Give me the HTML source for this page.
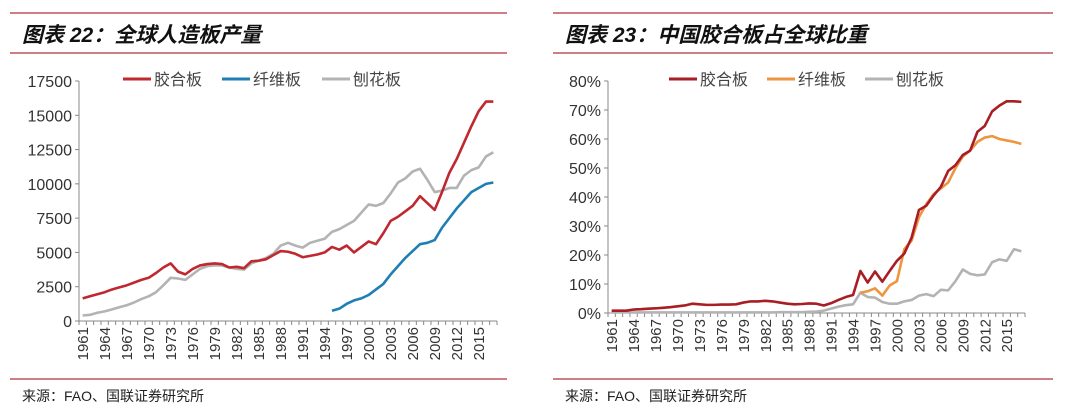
<!DOCTYPE html>
<html><head><meta charset="utf-8">
<style>
html,body{margin:0;padding:0;background:#fff;}
body{width:1080px;height:408px;overflow:hidden;font-family:"Liberation Sans","Noto Sans CJK SC",sans-serif;}
</style></head>
<body>
<svg id="svg" width="1080" height="408" xmlns="http://www.w3.org/2000/svg"></svg>
<script>
const years = [];
for (let y = 1961; y <= 2017; y++) years.push(y);
const plywood = [1650,1800,1950,2100,2300,2450,2600,2800,3000,3150,3500,3900,4200,3600,3400,3800,4050,4150,4200,4150,3900,3950,3850,4350,4400,4500,4800,5100,5050,4900,4650,4750,4850,5000,5400,5200,5500,5000,5400,5800,5600,6400,7300,7600,8000,8400,9100,8600,8100,9400,10800,11800,13000,14200,15300,16000,16000];
const particle = [400,450,600,700,850,1000,1150,1350,1600,1800,2100,2600,3150,3100,3000,3400,3800,4000,4050,4050,3900,3800,3750,4200,4400,4600,4900,5500,5700,5500,5350,5700,5850,6000,6500,6700,7000,7300,7900,8500,8400,8600,9300,10100,10400,10900,11100,10300,9400,9500,9700,9700,10600,11000,11200,12000,12300];
const mdf = [null,null,null,null,null,null,null,null,null,null,null,null,null,null,null,null,null,null,null,null,null,null,null,null,null,null,null,null,null,null,null,null,null,null,750,900,1250,1500,1650,1900,2300,2700,3400,4000,4600,5100,5600,5700,5900,6800,7500,8200,8800,9400,9700,10000,10100];
const plyPct = [0.8,0.8,0.8,1.2,1.3,1.5,1.6,1.8,2.0,2.3,2.6,3.2,3.0,2.8,2.8,2.9,2.9,3.0,3.6,4.0,4.0,4.2,4.0,3.6,3.2,3.0,3.1,3.3,3.2,2.6,3.4,4.5,5.5,6.2,14.5,10.5,14.3,10.8,14.5,18,20.5,26,35.5,37,40.5,43.5,49,51,54.5,56,62.5,64.5,69.5,71.5,73,73,72.8];
const mdfPct = [null,null,null,null,null,null,null,null,null,null,null,null,null,null,null,null,null,null,null,null,null,null,null,null,null,null,null,null,null,null,null,null,null,null,7,7.5,8.5,6,9.5,11,22,25,33,37.5,41,43,45,50,54,56,59,60.5,61,60,59.5,59,58.3];
const partPct = [0.2,0.2,0.2,0.2,0.2,0.2,0.2,0.2,0.2,0.2,0.2,0.2,0.2,0.2,0.2,0.2,0.2,0.2,0.2,0.2,0.2,0.2,0.2,0.3,0.3,0.3,0.3,0.4,0.5,0.8,1.5,2.2,2.7,3,7,5.5,5.3,3.8,3.2,3.2,4,4.5,6,6.5,5.8,8,7.8,11,15,13.5,13,13.3,17.5,18.5,18,22,21.3];
const leftTicks = [0,2500,5000,7500,10000,12500,15000,17500];
const rightTicks = [0,10,20,30,40,50,60,70,80];

const NS = "http://www.w3.org/2000/svg";
const svg = document.getElementById('svg');
function el(tag, attrs, parent, text) {
  const e = document.createElementNS(NS, tag);
  for (const k in attrs) e.setAttribute(k, attrs[k]);
  if (text !== undefined) e.textContent = text;
  (parent || svg).appendChild(e);
  return e;
}

function panel(o) {
  const g = el('g', {});
  
  
  let e;
  e = el('line', {x1:o.lx1, x2:o.lx2, y1:13, y2:13, stroke:'#b5323d', 'stroke-width':1.3}, g);
   
  e = el('line', {x1:o.lx1, x2:o.lx2, y1:53, y2:53, stroke:'#b5323d', 'stroke-width':1.3}, g);
   
  e = el('text', {x:o.lx1+12, y:42, 'font-size':21, 'font-weight':'bold', 'font-style':'italic', fill:'#111', 'font-family':'"Liberation Sans","Noto Sans CJK SC",sans-serif'}, g, o.title);
   
  e = el('line', {x1:o.lx1, x2:o.lx2, y1:379, y2:379, stroke:'#b5323d', 'stroke-width':1.3}, g);
   
  e = el('text', {x:o.lx1+12, y:401, 'font-size':14, fill:'#222'}, g, '来源：FAO、国联证券研究所');
   

  const n = years.length;
  const step = (o.x1 - o.x0) / n;
  const xs = i => o.x0 + step * (i + 0.5);
  const ys = v => o.y0 - (v - 0) / o.max * (o.y0 - o.yTop);

  e = el('line', {x1:o.x0, x2:o.x0, y1:o.yTop, y2:o.y0, stroke:'#888', 'stroke-width':1}, g);
   
  o.ticks.forEach(t => {
    const y = ys(t);
    el('line', {x1:o.x0-4, x2:o.x0, y1:y, y2:y, stroke:'#888'}, g);
    const tl = el('text', {x:o.x0-7, y:y+6, 'font-size':16, fill:'#333', 'text-anchor':'end'}, g, o.fmt(t));
     
  });
  e = el('line', {x1:o.x0, x2:o.x1, y1:o.y0, y2:o.y0, stroke:'#888', 'stroke-width':1}, g);
   
  for (let i = 0; i <= n; i++) {
    const x = o.x0 + step * i;
    el('line', {x1:x, x2:x, y1:o.y0, y2:o.y0+4, stroke:'#888'}, g);
  }
  years.forEach((yr, i) => {
    if ((yr - 1961) % 3 !== 0) return;
    const x = xs(i) + 5.5;
    const tl = el('text', {x:x, y:o.y0+6, 'font-size':15, fill:'#333', 'text-anchor':'end', transform:`rotate(-90 ${x} ${o.y0+6})`}, g, String(yr));
     
  });
  o.series.forEach(s => {
    let d = '';
    let pen = false;
    s.data.forEach((v, i) => {
      if (v === null) { pen = false; return; }
      d += (pen ? 'L' : 'M') + xs(i).toFixed(2) + ' ' + ys(v).toFixed(2) + ' ';
      pen = true;
    });
    const p = el('path', {d:d, fill:'none', stroke:s.color, 'stroke-width':2.6, 'stroke-linejoin':'round'}, g);
     
    const lg = el('g', {}, g);
     
    el('line', {x1:s.lx, x2:s.lx+28, y1:79, y2:79, stroke:s.color, 'stroke-width':3}, lg);
    el('text', {x:s.lx+31, y:85, 'font-size':16, fill:'#444'}, lg, s.label);
  });
}

panel({name:'chart-global-panel-production', title:'图表 22：全球人造板产量', lx1:10, lx2:507,
  x0:79, x1:497, y0:321, yTop:81, max:17500, ticks:leftTicks, fmt:t=>String(t),
  series:[
    {key:'particleboard', label:'刨花板', color:'#b3b3b3', data:particle, lx:322},
    {key:'mdf', label:'纤维板', color:'#1f7fb3', data:mdf, lx:222},
    {key:'plywood', label:'胶合板', color:'#c0282f', data:plywood, lx:123}
  ]});
panel({name:'chart-china-share', title:'图表 23：中国胶合板占全球比重', lx1:553, lx2:1053,
  x0:608, x1:1025, y0:313, yTop:81, max:80, ticks:rightTicks, fmt:t=>t+'%',
  series:[
    {key:'particleboard', label:'刨花板', color:'#b3b3b3', data:partPct, lx:865},
    {key:'mdf', label:'纤维板', color:'#ee9540', data:mdfPct, lx:767},
    {key:'plywood', label:'胶合板', color:'#a81e24', data:plyPct, lx:669}
  ]});
</script>
</body></html>
